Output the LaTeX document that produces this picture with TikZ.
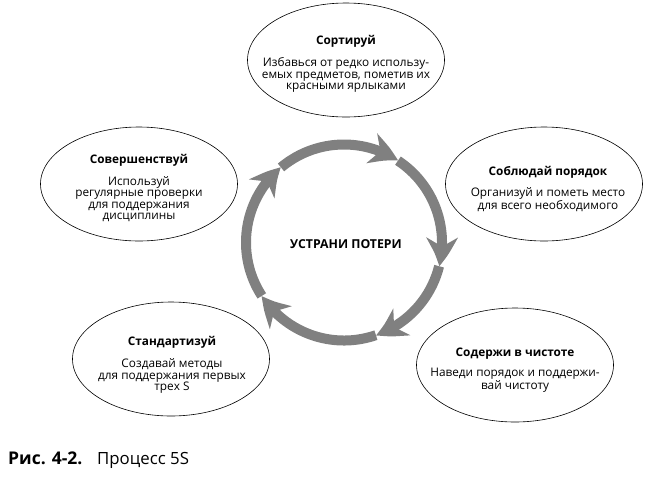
\documentclass[tikz,border=0pt]{standalone}
\usepackage{fontspec}
\setmainfont{Open Sans}
\usetikzlibrary{shapes.geometric,arrows.meta,bending}
\definecolor{ringgray}{RGB}{128,128,128}
\tikzset{
  stage/.style={ellipse, draw, line width=0.6pt, minimum width=197pt, minimum height=114pt, inner sep=0pt},
  stagetext/.style={align=center, inner sep=0pt, font=\fontsize{11.8}{11.5}\selectfont},
  ring/.style={draw=ringgray, line width=10pt, -{Stealth[length=29pt,width=31pt,inset=9pt,bend]}},
}
\begin{document}
\begin{tikzpicture}[x=1pt,y=-1pt]
\useasboundingbox (0,0) rectangle (648,483);

%Shape: Ellipse
\node[stage] (sort) at (346,60) {};
%Shape: Ellipse
\node[stage] (order) at (544,184) {};
%Shape: Ellipse
\node[stage] (clean) at (515,365) {};
%Shape: Ellipse
\node[stage] (standard) at (171,359) {};
%Shape: Ellipse
\node[stage] (improve) at (139,184) {};

\coordinate (hub) at (344,242.5);
%Curve Lines
\draw[ring] ([shift={(-130:98)}]hub) arc[start angle=-130, end angle=-56.6, radius=98];
%Curve Lines
\draw[ring] ([shift={(-56.6:98)}]hub) arc[start angle=-56.6, end angle=14, radius=98];
%Curve Lines
\draw[ring] ([shift={(14:98)}]hub) arc[start angle=14, end angle=71, radius=98];
%Curve Lines
\draw[ring] ([shift={(71:98)}]hub) arc[start angle=71, end angle=147, radius=98];
%Curve Lines
\draw[ring] ([shift={(147:98)}]hub) arc[start angle=147, end angle=230, radius=98];

% Text Node
\node[font=\fontsize{12.3}{12}\selectfont\bfseries] (goal) at (346,244) {УСТРАНИ ПОТЕРИ};
% Text Node
\node[stagetext] (sort-text) at (346,64) {\textbf{Сортируй}\\[9pt]Избавься от редко использу-\\емых предметов, пометив их\\красными ярлыками};
% Text Node
\node[stagetext] (order-text) at (548,189) {\textbf{Соблюдай порядок}\\[9pt]Организуй и пометь место\\для всего необходимого};
% Text Node
\node[stagetext] (clean-text) at (515,370) {\textbf{Содержи в чистоте}\\[9pt]Наведи порядок и поддержи-\\вай чистоту};
% Text Node
\node[stagetext] (standard-text) at (172,365) {\textbf{Стандартизуй}\\[9pt]Создавай методы\\для поддержания первых\\трех S};
% Text Node
\node[stagetext] (improve-text) at (139,188) {\textbf{Совершенствуй}\\[9pt]Используй\\регулярные проверки\\для поддержания\\дисциплины};

% Text Node
\node[anchor=base west, inner sep=0pt, font=\fontsize{17.5}{18}\selectfont\bfseries] (fig-num) at (8,464) {Рис. 4-2.};
% Text Node
\node[anchor=base west, inner sep=0pt, font=\fontsize{16.8}{18}\selectfont] (fig-title) at (97,464) {Процесс 5S};

\end{tikzpicture}
\end{document}
